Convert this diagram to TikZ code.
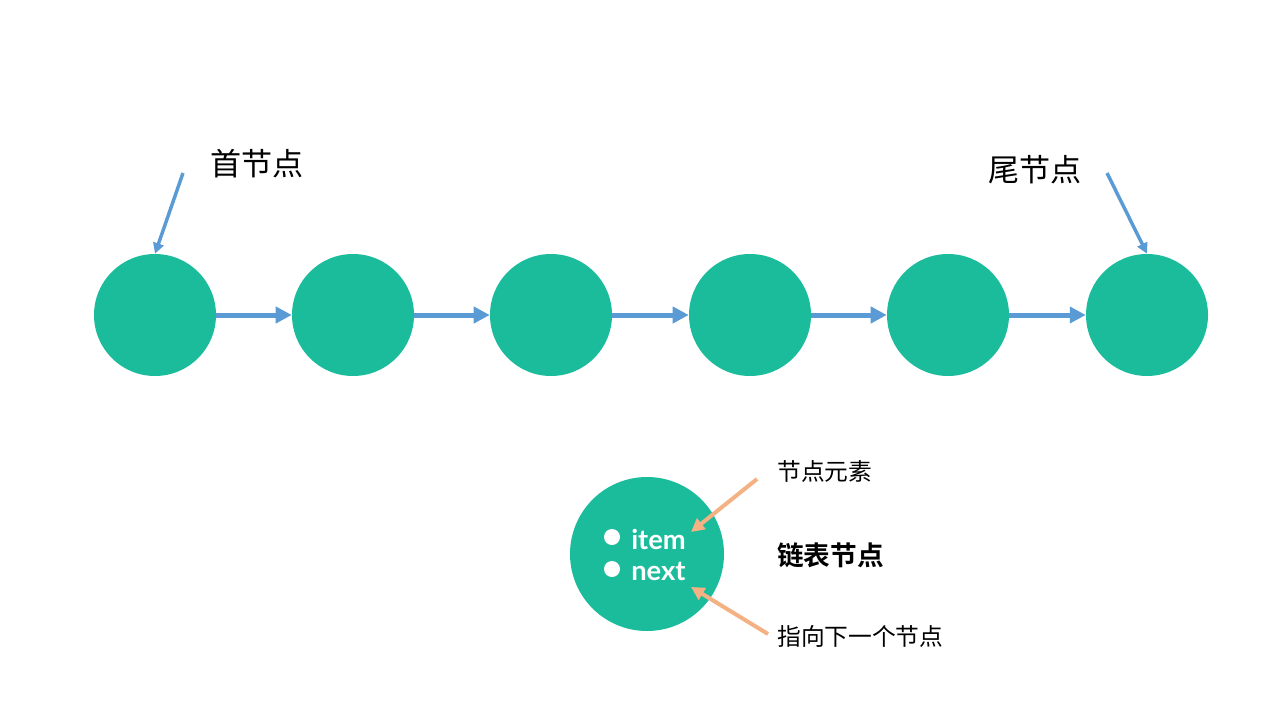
\documentclass[tikz,border=0pt]{standalone}
\usepackage{fontspec}
\newfontfamily\cjk{Noto Sans CJK SC}
\newfontfamily\cjkb{Noto Sans CJK SC Bold}
\newfontfamily\latb{Lato Bold}
\usetikzlibrary{arrows.meta}
\definecolor{nodegreen}{HTML}{1ABC9C}
\definecolor{linkblue}{HTML}{5B9BD5}
\definecolor{noteorange}{HTML}{F4B183}
\begin{document}
\begin{tikzpicture}[x=0.75pt,y=-0.75pt,
  listnode/.style={circle,fill=nodegreen,minimum size=91.5pt,inner sep=0pt},
  bignode/.style={circle,fill=nodegreen,minimum size=115.5pt,inner sep=0pt},
  dot/.style={circle,fill=white,minimum size=12pt,inner sep=0pt},
  link/.style={draw=linkblue,line width=3.75pt,-{Triangle[length=12pt,width=12pt]}},
  pointer/.style={draw=linkblue,line width=2.6pt,-{Triangle[length=8pt,width=8pt]}},
  note/.style={draw=noteorange,line width=3pt,-{Triangle[length=10pt,width=10pt]}},
  biglabel/.style={font=\cjk\fontsize{23.3pt}{27pt}\selectfont,inner sep=0pt},
  smalllabel/.style={font=\cjk\fontsize{17.8pt}{21pt}\selectfont,inner sep=0pt},
  boldlabel/.style={font=\cjkb\fontsize{20pt}{24pt}\selectfont,inner sep=0pt},
  fieldtext/.style={font=\latb\fontsize{20.5pt}{24pt}\selectfont,text=white,inner sep=0pt,anchor=west}
]
\useasboundingbox (0,0) rectangle (1280,720);
\node[listnode] (n1) at (155,315) {};
\node[listnode] (n2) at (353,315) {};
\node[listnode] (n3) at (551,315) {};
\node[listnode] (n4) at (750,315) {};
\node[listnode] (n5) at (948,315) {};
\node[listnode] (n6) at (1147,315) {};
\foreach \a/\b in {n1/n2,n2/n3,n3/n4,n4/n5,n5/n6}
  \draw[link] (\a.east) -- (\b.west);

\node[biglabel] (head) at (257,164) {首节点};
\node[biglabel] (tail) at (1035,170) {尾节点};
\coordinate (hs) at (183,173);
\coordinate (ts) at (1107,173);
\draw[pointer] (hs) -- (n1.north);
\draw[pointer] (ts) -- (n6.north);

\node[bignode] (big) at (647,554) {};
\node[dot] (d1) at (612,537) {};
\node[dot] (d2) at (612,569) {};
\node[fieldtext] (item) at (631,539) {item};
\node[fieldtext] (next) at (631,571) {next};

\node[smalllabel,anchor=west] (elem) at (777,471) {节点元素};
\node[boldlabel,anchor=west] (title) at (777,555) {链表节点};
\node[smalllabel,anchor=west] (ptr) at (777,636) {指向下一个节点};
\coordinate (es) at (757,479);
\coordinate (ps) at (768,634);
\draw[note] (es) -- (691,532);
\draw[note] (ps) -- (691,587);
\end{tikzpicture}
\end{document}
